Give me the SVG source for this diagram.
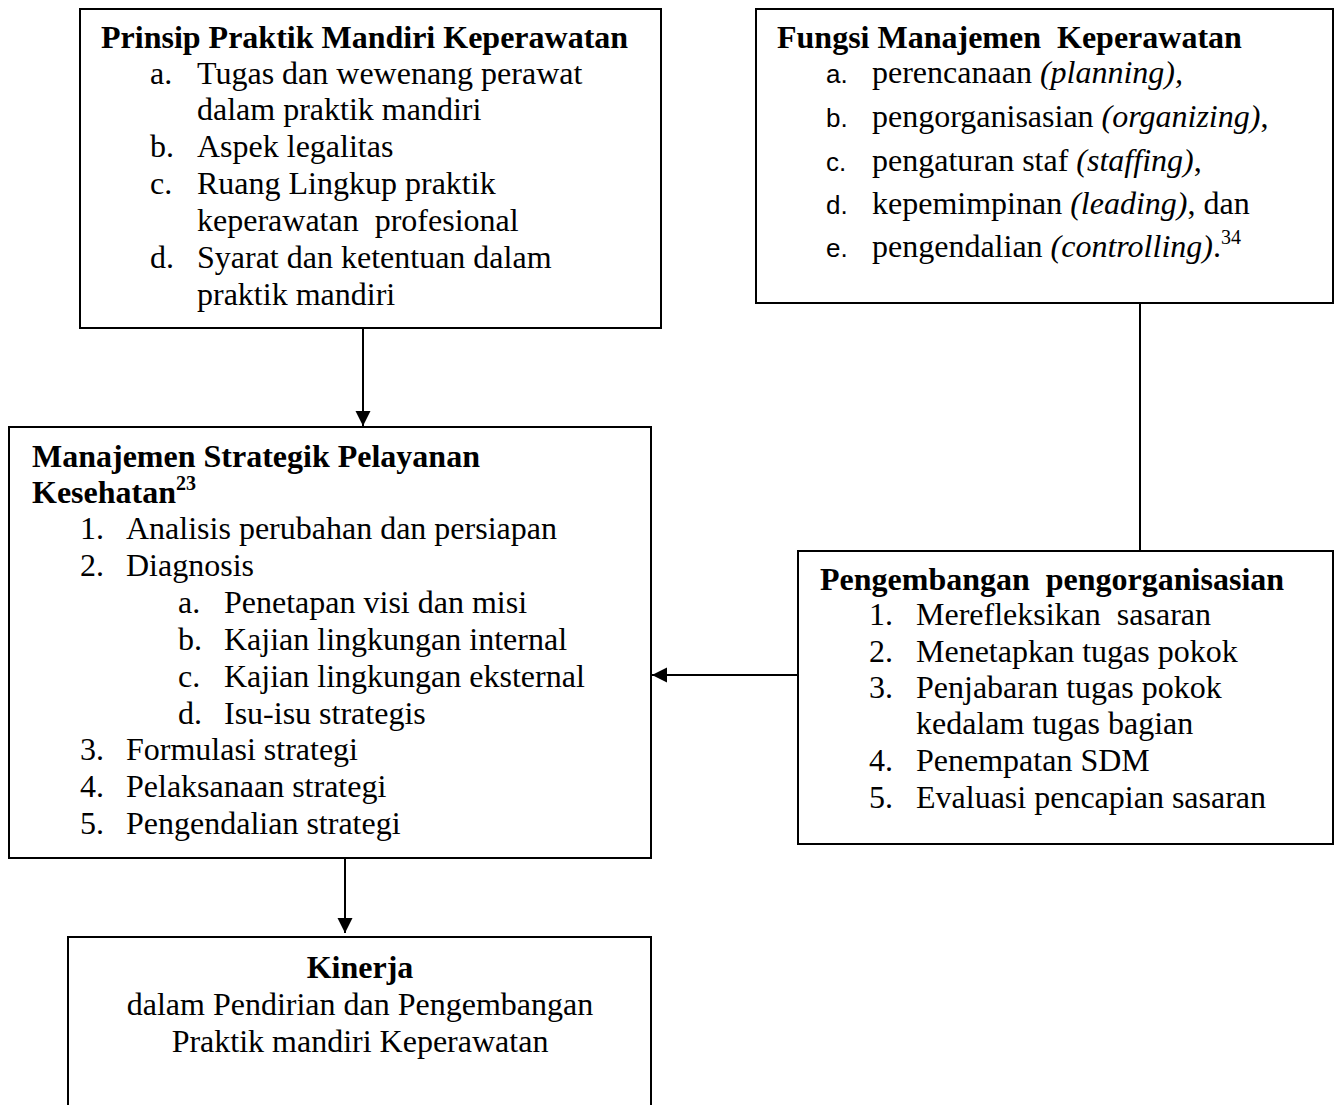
<svg xmlns="http://www.w3.org/2000/svg" width="1335" height="1105" viewBox="0 0 1335 1105">
<style>
.box{fill:#fff;stroke:#000;stroke-width:2}
.t{font-family:"Liberation Serif","Times New Roman",serif;font-size:32px;fill:#000;white-space:pre}
.b{font-weight:bold}
.i{font-style:italic}
.s{font-family:"Liberation Sans",Arial,sans-serif;font-size:26px;fill:#000}
.sup{font-size:20px}
.ln{stroke:#000;stroke-width:2;fill:none}
</style>
<defs>
<marker id="ah" markerWidth="16" markerHeight="16" refX="15" refY="7.5" orient="auto" markerUnits="userSpaceOnUse">
<path d="M0,0 L15,7.5 L0,15 Z" fill="#000"/>
</marker>
</defs>
<rect width="1335" height="1105" fill="#fff"/>
<g id="connectors">
<line class="ln" x1="363" y1="328" x2="363" y2="426" marker-end="url(#ah)"/>
<line class="ln" x1="1140" y1="303" x2="1140" y2="551"/>
<line class="ln" x1="798" y1="675" x2="652" y2="675" marker-end="url(#ah)"/>
<line class="ln" x1="345" y1="858" x2="345" y2="933" marker-end="url(#ah)"/>
</g>
<g id="prinsip">
<rect class="box" x="80" y="9" width="581" height="319"/>
<text class="t b" x="101" y="48">Prinsip Praktik Mandiri Keperawatan</text>
<text class="t" x="150" y="84">a.</text><text class="t" x="197" y="84">Tugas dan wewenang perawat</text>
<text class="t" x="197" y="120">dalam praktik mandiri</text>
<text class="t" x="150" y="157">b.</text><text class="t" x="197" y="157">Aspek legalitas</text>
<text class="t" x="150" y="194">c.</text><text class="t" x="197" y="194">Ruang Lingkup praktik</text>
<text class="t" x="197" y="231">keperawatan  profesional</text>
<text class="t" x="150" y="268">d.</text><text class="t" x="197" y="268">Syarat dan ketentuan dalam</text>
<text class="t" x="197" y="305">praktik mandiri</text>
</g>
<g id="fungsi">
<rect class="box" x="756" y="9" width="577" height="294"/>
<text class="t b" x="777" y="48">Fungsi Manajemen  Keperawatan</text>
<text class="s" x="826" y="83">a.</text><text class="t" x="872" y="83">perencanaan <tspan class="i">(planning),</tspan></text>
<text class="s" x="826" y="127">b.</text><text class="t" x="872" y="127">pengorganisasian <tspan class="i">(organizing)</tspan>,</text>
<text class="s" x="826" y="171">c.</text><text class="t" x="872" y="171">pengaturan staf <tspan class="i">(staffing)</tspan>,</text>
<text class="s" x="826" y="214">d.</text><text class="t" x="872" y="214">kepemimpinan <tspan class="i">(leading)</tspan>, dan</text>
<text class="s" x="826" y="257">e.</text><text class="t" x="872" y="257">pengendalian <tspan class="i">(controlling)</tspan>.<tspan class="sup" dy="-13">34</tspan></text>
</g>
<g id="manajemen">
<rect class="box" x="9" y="427" width="642" height="431"/>
<text class="t b" x="32" y="467">Manajemen Strategik Pelayanan</text>
<text class="t b" x="32" y="503">Kesehatan<tspan class="sup" dy="-13">23</tspan></text>
<text class="t" x="80" y="539">1.</text><text class="t" x="126" y="539">Analisis perubahan dan persiapan</text>
<text class="t" x="80" y="576">2.</text><text class="t" x="126" y="576">Diagnosis</text>
<text class="t" x="178" y="613">a.</text><text class="t" x="224" y="613">Penetapan visi dan misi</text>
<text class="t" x="178" y="650">b.</text><text class="t" x="224" y="650">Kajian lingkungan internal</text>
<text class="t" x="178" y="687">c.</text><text class="t" x="224" y="687">Kajian lingkungan eksternal</text>
<text class="t" x="178" y="724">d.</text><text class="t" x="224" y="724">Isu-isu strategis</text>
<text class="t" x="80" y="760">3.</text><text class="t" x="126" y="760">Formulasi strategi</text>
<text class="t" x="80" y="797">4.</text><text class="t" x="126" y="797">Pelaksanaan strategi</text>
<text class="t" x="80" y="834">5.</text><text class="t" x="126" y="834">Pengendalian strategi</text>
</g>
<g id="pengembangan">
<rect class="box" x="798" y="551" width="535" height="293"/>
<text class="t b" x="820" y="590">Pengembangan  pengorganisasian</text>
<text class="t" x="869" y="625">1.</text><text class="t" x="916" y="625">Merefleksikan  sasaran</text>
<text class="t" x="869" y="662">2.</text><text class="t" x="916" y="662">Menetapkan tugas pokok</text>
<text class="t" x="869" y="698">3.</text><text class="t" x="916" y="698">Penjabaran tugas pokok</text>
<text class="t" x="916" y="734">kedalam tugas bagian</text>
<text class="t" x="869" y="771">4.</text><text class="t" x="916" y="771">Penempatan SDM</text>
<text class="t" x="869" y="808">5.</text><text class="t" x="916" y="808">Evaluasi pencapian sasaran</text>
</g>
<g id="kinerja">
<rect class="box" x="68" y="937" width="583" height="200"/>
<text class="t b" x="360" y="978" text-anchor="middle">Kinerja</text>
<text class="t" x="360" y="1015" text-anchor="middle">dalam Pendirian dan Pengembangan</text>
<text class="t" x="360" y="1052" text-anchor="middle">Praktik mandiri Keperawatan</text>
</g>
</svg>
